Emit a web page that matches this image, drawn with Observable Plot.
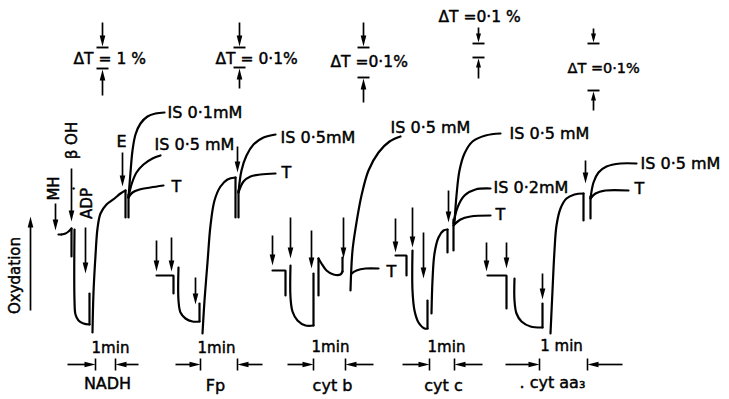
<!DOCTYPE html>
<html>
<head>
<meta charset="utf-8">
<script src="https://cdn.jsdelivr.net/npm/d3@7"></script>
<script src="https://cdn.jsdelivr.net/npm/@observablehq/plot@0.6"></script>
<style>
  html, body { margin: 0; padding: 0; background: #fff; }
  #chart svg { display: block; }
</style>
</head>
<body>
<div id="chart"></div>
<script>
// ---- Data (figure coordinate space: x 0..729 left→right, y 0..399 top→bottom) ----
// Trace segments per panel: kind "s" = smooth curve, "l" = straight strokes
const nadhTrace = [
  {kind: "l", pts: [[58,234],[61,234]]},
  {kind: "s", pts: [[61,234],[65,233],[68,231],[71,228]]},
  {kind: "l", pts: [[71,228],[71,256]]},
  {kind: "s", pts: [[74,229],[74,300],[75,314],[78,320],[83,323],[89,324]]},
  {kind: "l", pts: [[89,324],[89,293]]},
  {kind: "s", pts: [[92,332],[93,292],[95,255],[97,228],[100,213],[106,204],[114,198],[120,193],[125,190]]},
  {kind: "l", pts: [[125,190],[125,217]]},
  {kind: "l", pts: [[128,217],[128,194]]},
  {kind: "s", pts: [[128,197],[132,192],[139,189],[150,187],[163,185]]},
  {kind: "s", pts: [[128,197],[131,184],[136,172],[143,164],[152,158],[160,155]]},
  {kind: "s", pts: [[128,197],[130,172],[132,150],[135,134],[140,123],[147,116],[155,113],[164,112]]}
];
const fpTrace = [
  {kind: "l", pts: [[156,275],[173,275],[173,293]]},
  {kind: "s", pts: [[178,267],[178,300],[180,312],[185,318],[192,321],[199,321]]},
  {kind: "l", pts: [[199,321],[199,303]]},
  {kind: "s", pts: [[202,333],[204,300],[207,262],[210,225],[214,200],[220,186],[227,179],[235,177]]},
  {kind: "l", pts: [[235,177],[235,217]]},
  {kind: "l", pts: [[238,217],[238,190]]},
  {kind: "s", pts: [[238,192],[243,181],[250,176],[260,174],[275,173]]},
  {kind: "s", pts: [[238,192],[241,170],[246,155],[253,144],[263,137],[275,134]]}
];
const cytbTrace = [
  {kind: "l", pts: [[272,270],[285,270],[285,295]]},
  {kind: "s", pts: [[290,265],[290,297],[292,311],[297,320],[305,325],[313,325]]},
  {kind: "l", pts: [[313,325],[313,273]]},
  {kind: "l", pts: [[318,295],[318,258]]},
  {kind: "s", pts: [[318,258],[321,263],[326,270],[333,274],[340,274],[342,271]]},
  {kind: "l", pts: [[342,271],[342,257]]},
  {kind: "s", pts: [[350,290],[352,250],[356,222],[361,195],[368,170],[378,152],[389,141],[400,136]]},
  {kind: "s", pts: [[351,273],[356,270],[365,268],[378,268]]}
];
const cytcTrace = [
  {kind: "l", pts: [[395,255],[406,255],[406,275]]},
  {kind: "s", pts: [[412,250],[412,290],[414,310],[418,322],[424,328],[427,328]]},
  {kind: "l", pts: [[427,328],[427,300]]},
  {kind: "s", pts: [[431,313],[432,280],[434,253],[438,237],[443,230],[447,229]]},
  {kind: "l", pts: [[447,229],[447,252]]},
  {kind: "l", pts: [[453,250],[453,219]]},
  {kind: "s", pts: [[453,225],[460,219],[470,216],[490,215]]},
  {kind: "s", pts: [[453,223],[457,207],[464,195],[475,189],[490,188]]},
  {kind: "s", pts: [[454,222],[456,195],[459,170],[464,153],[472,141],[485,135],[500,133]]}
];
const cytaa3Trace = [
  {kind: "l", pts: [[487,275],[506,275],[506,308]]},
  {kind: "s", pts: [[514,278],[514,300],[516,313],[521,321],[530,326],[542,327]]},
  {kind: "l", pts: [[542,327],[542,303]]},
  {kind: "s", pts: [[550,333],[552,290],[554,250],[556,225],[560,208],[566,198],[574,194],[583,193]]},
  {kind: "l", pts: [[583,193],[583,220]]},
  {kind: "l", pts: [[590,218],[590,196]]},
  {kind: "s", pts: [[590,198],[595,193],[605,190],[628,190]]},
  {kind: "s", pts: [[590,198],[593,182],[598,172],[606,166],[620,163],[636,163]]}
];

// Arrows: [tailX, tailY, tipX, tipY, headLength]
const additionArrows = [
  [55,203,55,230,10],[71,168,71,221,10],[85,227,85,273,10],[122,152,122,186,10],
  [156,240,156,271,10],[171,237,171,271,10],[195,277,195,304,10],[237,146,237,172,10],
  [272,235,272,265,10],[290,217,290,258,10],[311,230,311,268,10],[343,217,343,258,10],
  [395,218,395,252,10],[412,207,412,247,10],[423,232,423,278,10],[448,190,448,222,10],
  [486,242,486,271,10],[506,242,506,268,10],[542,273,542,299,10],[585,160,585,183,10]
];
const axisArrow = [[30,310,30,216,11]];
const deltaArrows = [
  [102,22,102,46,10],[102,95,102,69,10],
  [239,22,239,46,10],[239,88,239,68,10],
  [363,22,363,46,10],[363,102,363,78,10],
  [478,27,478,42,8],[478,78,478,58,8],
  [593,28,593,42,8],[593,110,593,91,8]
];
const scaleArrows = [
  [67,364,95,364,10],[138,364,115,364,10],
  [175,364,200,364,10],[262,364,237,364,10],
  [287,364,313,364,10],[373,364,345,364,10],
  [402,364,429,364,10],[482,364,454,364,10],
  [505,364,539,364,10],[622,364,587,364,10]
];
// ΔT bars: [x, y]
const deltaBars = [[102,47],[102,68],[239,47],[239,67],[363,47],[363,77],[478,43],[478,57],[593,43],[593,90]];
// 1-min ticks: [x, y]
const minuteTicks = [[95,364],[115,364],[200,364],[237,364],[313,364],[345,364],[429,364],[454,364],[539,364],[587,364]];

// Labels: [text, x, y, anchor, rotate, size]
const deltaLabels = [
  ["ΔT = 1 %", 73, 59, "start", 0, 15.5],
  ["ΔT = 0·1%", 215, 59, "start", 0, 15.5],
  ["ΔT =0·1%", 330, 62, "start", 0, 15.5],
  ["ΔT =0·1 %", 438, 17, "start", 0, 15.5],
  ["ΔT =0·1%", 567, 68, "start", 0, 14.5]
];
const traceLabels = [
  ["E", 121, 141, "middle", 0, 16],
  ["IS 0·1mM", 167, 112, "start", 0, 16],
  ["IS 0·5 mM", 154, 144, "start", 0, 16],
  ["T", 171, 186, "start", 0, 16],
  ["IS 0·5mM", 280, 137, "start", 0, 16],
  ["T", 281, 172, "start", 0, 16],
  ["IS 0·5 mM", 390, 127, "start", 0, 16],
  ["T", 386, 271, "start", 0, 16],
  ["IS 0·5 mM", 509, 133, "start", 0, 16],
  ["IS 0·2mM", 493, 187, "start", 0, 16],
  ["T", 495, 214, "start", 0, 16],
  ["IS 0·5 mM", 640, 163, "start", 0, 16],
  ["T", 634, 188, "start", 0, 16],
  ["MH", 54, 188, "middle", -90, 15],
  ["β OH", 72, 140, "middle", -90, 15],
  ["ADP", 87, 203, "middle", -90, 15],
  ["•", 73, 188, "middle", 0, 7],
  ["Oxydation", 15, 275, "middle", -90, 15]
];
const scaleLabels = [
  ["1min", 110, 348, "middle", 0, 15],
  ["1min", 216, 348, "middle", 0, 15],
  ["1min", 330, 347, "middle", 0, 15],
  ["1min", 446, 347, "middle", 0, 15],
  ["1 min", 561, 346, "middle", 0, 15]
];
const panelNames = [
  ["NADH", 107, 383, "middle", 0, 16],
  ["Fp", 215, 385, "middle", 0, 16],
  ["cyt b", 332, 385, "middle", 0, 16],
  ["cyt c", 443, 385, "middle", 0, 16],
  [". cyt aa₃", 519, 382, "start", 0, 16]
];

// ---- Build tables ----
const allTraces = [nadhTrace, fpTrace, cytbTrace, cytcTrace, cytaa3Trace];
const tracePts = [];
let segId = 0;
for (const panel of allTraces) {
  for (const seg of panel) {
    for (const [x, y] of seg.pts) tracePts.push({seg: segId, kind: seg.kind, x, y});
    segId++;
  }
}
const arrows = [...additionArrows, ...axisArrow, ...deltaArrows, ...scaleArrows].map(([x1,y1,x2,y2,h]) => {
  const len = Math.hypot(x2-x1, y2-y1);
  const ux = (x2-x1)/len, uy = (y2-y1)/len;
  return {x1, y1, x2, y2, sx: x2 - ux*(h-2), sy: y2 - uy*(h-2), h,
          rot: Math.atan2(x2-x1, -(y2-y1)) * 180 / Math.PI};
});
const labels = [...deltaLabels, ...traceLabels, ...scaleLabels, ...panelNames]
  .map(([text,x,y,anchor,rotate,size]) => ({text,x,y,anchor,rotate,size}));

const headSymbol = (len, half) => ({draw(ctx) {
  ctx.moveTo(0, 0); ctx.lineTo(half, len); ctx.lineTo(-half, len); ctx.closePath();
}});

const font = "DejaVu Sans, sans-serif";
const textMarks = [];
for (const grp of d3.groups(labels, d => `${d.anchor}|${d.rotate}|${d.size}`)) {
  const [anchor, rotate, size] = grp[0].split("|");
  textMarks.push(Plot.text(grp[1], {
    x: "x", y: "y", text: "text", textAnchor: anchor, rotate: +rotate,
    fontSize: +size, fontFamily: font, fill: "black", lineAnchor: "middle",
    stroke: "black", strokeWidth: 0.45
  }));
}

const chart = Plot.plot({
  width: 729, height: 399, margin: 0,
  style: {background: "white", overflow: "visible"},
  x: {domain: [0, 729], range: [0, 729], axis: null},
  y: {domain: [0, 399], range: [0, 399], axis: null},
  marks: [
    Plot.line(tracePts.filter(d => d.kind === "s"), {x: "x", y: "y", z: "seg", curve: "catmull-rom", stroke: "black", strokeWidth: 2.2, strokeLinejoin: "round"}),
    Plot.line(tracePts.filter(d => d.kind === "l"), {x: "x", y: "y", z: "seg", curve: "linear", stroke: "black", strokeWidth: 2.2, strokeLinejoin: "miter"}),
    Plot.link(arrows, {x1: "x1", y1: "y1", x2: "sx", y2: "sy", stroke: "black", strokeWidth: 1.7}),
    Plot.dot(arrows.filter(d => d.h >= 10), {x: "x2", y: "y2", rotate: "rot", r: 3, symbol: headSymbol(11, 2.8), fill: "black", stroke: "none"}),
    Plot.dot(arrows.filter(d => d.h < 10), {x: "x2", y: "y2", rotate: "rot", r: 3, symbol: headSymbol(9, 2.5), fill: "black", stroke: "none"}),
    Plot.link(deltaBars, {x1: d => d[0]-6, x2: d => d[0]+6, y1: d => d[1], y2: d => d[1], stroke: "black", strokeWidth: 1.9}),
    Plot.link(minuteTicks, {x1: d => d[0], x2: d => d[0], y1: d => d[1]-6, y2: d => d[1]+6, stroke: "black", strokeWidth: 1.6}),
    ...textMarks
  ]
});
document.getElementById("chart").appendChild(chart);
</script>
</body>
</html>
